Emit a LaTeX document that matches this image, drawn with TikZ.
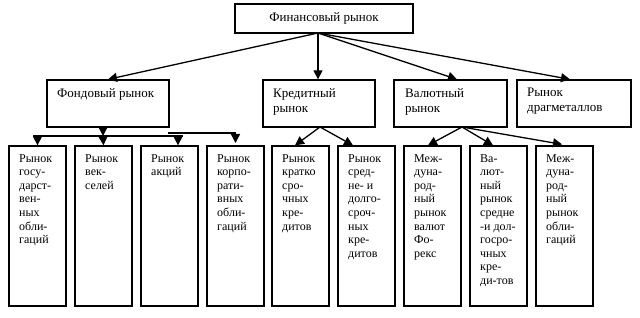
\documentclass[tikz,border=0pt]{standalone}
\usepackage{fontspec}
\setmainfont{Liberation Serif}
\usetikzlibrary{arrows.meta}
\begin{document}
\begin{tikzpicture}[x=1pt,y=-1pt,
  box/.style={draw,line width=1.3pt,inner sep=0pt},
  topbox/.style={box,minimum height=47pt},
  lowbox/.style={box,minimum width=57pt,minimum height=160pt},
  tl/.style={anchor=north west,inner sep=0pt,align=left,font=\fontsize{13}{15}\selectfont},
  bl/.style={anchor=north west,inner sep=0pt,align=left,font=\fontsize{12}{13.6}\selectfont},
  arr/.style={line width=1.3pt,-{Triangle[length=9pt,width=9pt]}},
  ln/.style={line width=1.3pt}]
\useasboundingbox (0,0) rectangle (640,318);
% top
\node[box,minimum width=178pt,minimum height=29pt,font=\fontsize{13}{15}\selectfont] (fin) at (324,18.5) {Финансовый рынок};
% second level
\node[topbox,minimum width=122pt] (fond) at (108,103.5) {};
\node[tl] (fondt) at (57,88) {Фондовый рынок};
\node[topbox,minimum width=112pt] (kred) at (319,103.5) {};
\node[tl] (kredt) at (273,88) {Кредитный\\рынок};
\node[topbox,minimum width=113pt] (val) at (450.5,103.5) {};
\node[tl] (valt) at (405,88) {Валютный\\рынок};
\node[topbox,minimum width=114pt] (drag) at (574,103.5) {};
\node[tl] (dragt) at (527,88) {Рынок\\драгметаллов};
% bottom boxes
\node[lowbox] (b1) at (37.5,226) {};
\node[lowbox] (b2) at (103.5,226) {};
\node[lowbox] (b3) at (169.5,226) {};
\node[lowbox] (b4) at (235.5,226) {};
\node[lowbox] (b5) at (300.5,226) {};
\node[lowbox] (b6) at (366.5,226) {};
\node[lowbox] (b7) at (432.5,226) {};
\node[lowbox] (b8) at (498.5,226) {};
\node[lowbox] (b9) at (564.5,226) {};
\node[bl] (t1) at (19,154) {Рынок\\госу-\\дарст-\\вен-\\ных\\обли-\\гаций};
\node[bl] (t2) at (85,154) {Рынок\\век-\\селей};
\node[bl] (t3) at (151,154) {Рынок\\акций};
\node[bl] (t4) at (217,154) {Рынок\\корпо-\\рати-\\вных\\обли-\\гаций};
\node[bl] (t5) at (282,154) {Рынок\\кратко\\сро-\\чных\\кре-\\дитов};
\node[bl] (t6) at (348,154) {Рынок\\сред-\\не- и\\долго-\\сроч-\\ных\\кре-\\дитов};
\node[bl] (t7) at (414,154) {Меж-\\дуна-\\род-\\ный\\рынок\\валют\\Фо-\\рекс};
\node[bl] (t8) at (480,154) {Ва-\\лют-\\ный\\рынок\\средне\\-и дол-\\госро-\\чных\\кре-\\ди-тов};
\node[bl] (t9) at (546,154) {Меж-\\дуна-\\род-\\ный\\рынок\\обли-\\гаций};
% arrows from top
\coordinate (ts) at (318,33);
\draw[arr] (ts) -- (fond.north);
\draw[arr] (ts) -- (ts |- kred.north);
\draw[arr] (ts) -- ([xshift=6.5pt]val.north);
\draw[arr] (ts) -- ([xshift=-4pt]drag.north);
% stock market tree
\coordinate (fs) at ([xshift=-5pt]fond.south);
\coordinate (fj) at (103,136);
\coordinate (hl) at (33,136);
\coordinate (hr) at (183,136);
\draw[arr] (fs) -- (fj);
\draw[ln] (hl) -- (hr);
\coordinate (a1) at (37.5,136);
\coordinate (a3) at (178,136);
\draw[arr] (a1) -- (b1.north);
\draw[arr] (fj) -- (b2.north);
\draw[arr] (a3) -- ([xshift=8.5pt]b3.north);
\coordinate (h2l) at (168,133);
\coordinate (h2r) at (235.5,133);
\coordinate (a4) at (235.5,143);
\draw[ln] (h2l) -- (h2r);
\draw[arr] (h2r) -- (a4);
% credit market
\coordinate (ks) at (320,127);
\draw[arr] (ks) -- ([xshift=-5.5pt]b5.north);
\draw[arr] (ks) -- ([xshift=-13.5pt]b6.north);
% currency market
\coordinate (vs) at (462,127);
\draw[arr] (vs) -- ([xshift=-4.5pt]b7.north);
\draw[arr] (vs) -- ([xshift=-5.5pt]b8.north);
\draw[arr] (vs) -- ([xshift=-2.5pt,yshift=1pt]b9.north);
\end{tikzpicture}
\end{document}
